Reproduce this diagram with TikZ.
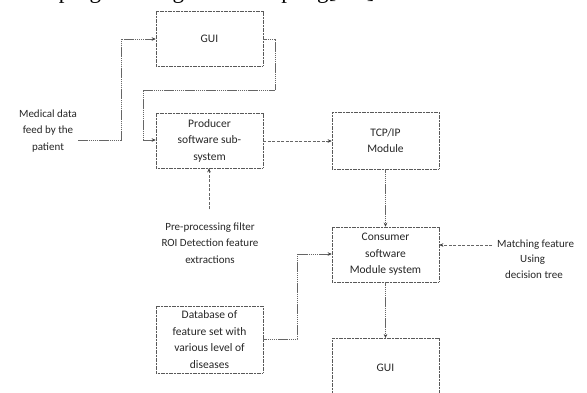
\documentclass[tikz,border=0pt]{standalone}
\usepackage{fontspec}
\setmainfont{Carlito}
\usetikzlibrary{arrows.meta}
\begin{document}
\begin{tikzpicture}[x=1pt,y=-1pt,
  box/.style={draw=black!65, line width=0.6pt, dash pattern=on 1.2pt off 0.4pt, inner sep=0pt, align=center, font=\fontsize{11.5}{16.5}\selectfont, text=black!85},
  lbl/.style={align=center, font=\fontsize{11}{16.5}\selectfont, text=black!85, inner sep=0pt},
  tip/.style={-{Stealth[length=4pt,width=3.6pt,color=black!75]}},
  conn/.style={draw=black!60, line width=0.6pt, dash pattern=on 1.5pt off 0.6pt, tip},
  conn2/.style={draw=black!60, line width=0.6pt, dash pattern=on 3pt off 1.5pt, tip}]
\useasboundingbox (0,0) rectangle (587,392);
\node[anchor=base west, inner sep=0pt, font={\fontspec{Liberation Serif}\fontsize{23}{26}\selectfont}] (head) at (0,-2) {socketprogramming\&web-scripting[7-8]};
% boxes
\node[box, minimum width=107pt, minimum height=55pt] (gui1) at (209.5,38.5) {GUI};
\node[box, minimum width=107pt, minimum height=55pt] (prod) at (209.5,140.5) {Producer\\software sub-\\system};
\node[box, minimum width=107pt, minimum height=57pt] (tcp) at (385.5,140.5) {TCP/IP\\Module};
\node[box, minimum width=107pt, minimum height=55pt] (cons) at (385.5,254.5) {Consumer\\software\\Module system};
\node[box, minimum width=107pt, minimum height=67pt] (db) at (209.5,339.5) {Database of\\feature set with\\various level of\\diseases};
\draw[draw=black!65, line width=0.6pt, dash pattern=on 1.2pt off 0.4pt] (332,400) -- (332,338) -- (439,338) -- (439,400);
\node[lbl, font=\fontsize{11.5}{16.5}\selectfont] (gui2) at (385.5,368) {GUI};
\coordinate (gui2top) at (385.5,338);
% labels
\node[lbl] (med) at (48,131) {Medical data\\feed by the\\patient};
\node[lbl] (pre) at (210,243) {Pre-processing filter\\ROI Detection feature\\extractions};
\node[lbl, anchor=base west] (match) at (497,247) {Matching feature};
\node[lbl, anchor=base west] (using) at (520,262) {Using};
\node[lbl, anchor=base west] (dec) at (505,278) {decision tree};
% connectors
\draw[conn] (med.east|-0,140) ++(1,0) -- (121,140) -- (121,39) -- (gui1.west|-0,39);
\draw[conn] (gui1.east|-0,39) -- (275,39) -- (275,90) -- (143,90) -- (143,140) -- (prod.west|-0,140);
\draw[conn2] (prod.east|-0,141) -- (tcp.west|-0,141);
\draw[conn2] (pre.north) ++(-1,-13) coordinate (pretop) -- (pretop|-prod.south);
\draw[conn] (tcp.south) -- (cons.north);
\draw[conn] (cons.south) -- (gui2top);
\draw[conn] (db.east|-0,339) -- (297,339) -- (297,254) -- (cons.west|-0,254);
\draw[conn2] (492,245) -- (cons.east|-0,245);
\end{tikzpicture}
\end{document}
